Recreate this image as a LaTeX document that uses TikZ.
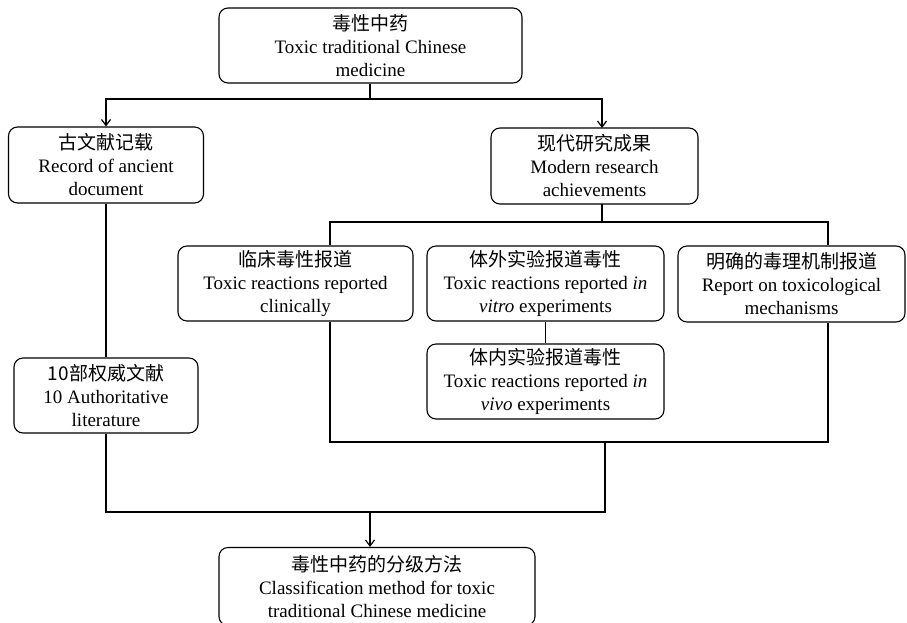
\documentclass[tikz,border=0pt]{standalone}
\usepackage{fontspec}
\setmainfont{Liberation Serif}
\newfontfamily\cjk{Noto Sans CJK SC}
\usetikzlibrary{arrows.meta}
\begin{document}
\begin{tikzpicture}[x=1pt,y=-1pt,
  box/.style={draw, line width=1.1pt, rounded corners=9pt, fill=white, align=center,
    inner sep=0pt, font=\fontsize{19}{23}\selectfont},
  conn/.style={line width=1.7pt},
  arr/.style={conn, -{Straight Barb[length=6pt,width=9pt,line width=1.2pt]}}
]
\useasboundingbox (0,0) rectangle (907,622);

\node[box, minimum width=303pt, minimum height=75pt] (top) at (370.5,45.5)
  {{\cjk 毒性中药}\\Toxic traditional Chinese\\medicine};
\node[box, minimum width=195pt, minimum height=76pt] (anc) at (106,165)
  {{\cjk 古文献记载}\\Record of ancient\\document};
\node[box, minimum width=207pt, minimum height=76pt] (mod) at (594.5,166)
  {{\cjk 现代研究成果}\\Modern research\\achievements};
\node[box, minimum width=235pt, minimum height=75pt] (clin) at (295.5,283.5)
  {{\cjk 临床毒性报道}\\Toxic reactions reported\\clinically};
\node[box, minimum width=237pt, minimum height=75pt] (vitro) at (545.5,283.5)
  {{\cjk 体外实验报道毒性}\\Toxic reactions reported \textit{in}\\\textit{vitro} experiments};
\node[box, minimum width=227pt, minimum height=76pt] (mech) at (791.5,284)
  {{\cjk 明确的毒理机制报道}\\Report on toxicological\\mechanisms};
\node[box, minimum width=237pt, minimum height=75pt] (vivo) at (545.5,381.5)
  {{\cjk 体内实验报道毒性}\\Toxic reactions reported \textit{in}\\\textit{vivo} experiments};
\node[box, minimum width=184pt, minimum height=75pt] (auth) at (106,395.5)
  {{\cjk 10部权威文献}\\10 Authoritative\\literature};
\node[box, minimum width=316pt, minimum height=78pt] (cls) at (377,586.5)
  {{\cjk 毒性中药的分级方法}\\Classification method for toxic\\traditional Chinese medicine};

\coordinate (j1) at (370,99);
\coordinate (bl) at (330,222);
\coordinate (br) at (828,222);
\coordinate (bbl) at (330,442);
\coordinate (bbr) at (828,442);
\coordinate (j2) at (370,512);

% top split
\draw[conn] (top.south -| j1) -- (j1);
\draw[arr] (j1) -| (anc.north);
\draw[arr] (j1) -| (602,128);
% ancient to authoritative
\draw[conn] (anc.south) -- (auth.north);
% modern to bracket
\draw[conn] (602,204) -- (602,222);
\draw[conn] (bl |- clin.north) -- (bl) -- (br) -- (br |- mech.north);
\draw[conn] (bl |- clin.south) -- (bbl) -- (bbr) -- (br |- mech.south);
\draw[conn] (vitro.south) -- (vivo.north);
% bottom merge
\draw[conn] (auth.south) -- (106,512) -- (605,512) -- (605,442);
\draw[arr] (j2) -- (j2 |- cls.north);
\end{tikzpicture}
\end{document}
